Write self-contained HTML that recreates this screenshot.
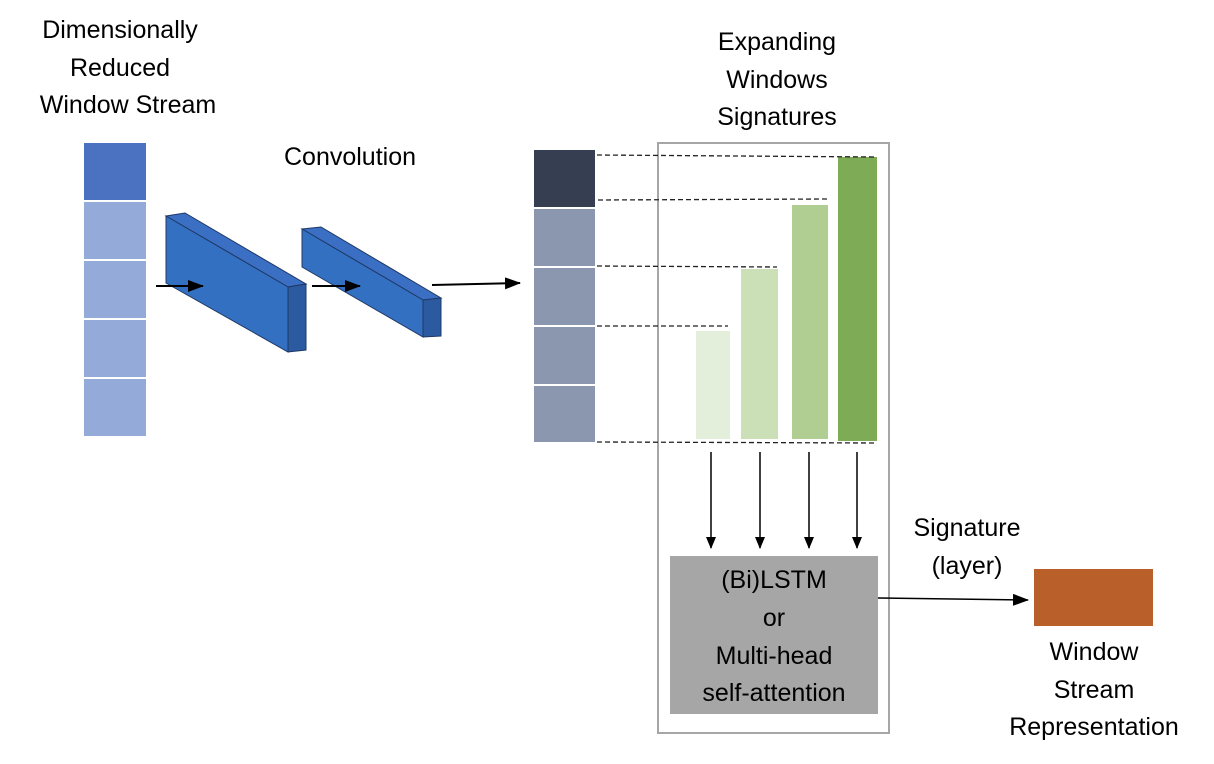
<!DOCTYPE html>
<html><head><meta charset="utf-8"><style>
html,body{margin:0;padding:0;background:#fff;}
svg{display:block}
text{font-family:"Liberation Sans",sans-serif;font-size:25px;fill:#000;text-anchor:middle;dominant-baseline:central}
</style></head><body>
<svg width="1214" height="764" viewBox="0 0 1214 764" xmlns="http://www.w3.org/2000/svg">
<defs><marker id="a" markerWidth="12" markerHeight="10" refX="11" refY="5" orient="auto" markerUnits="userSpaceOnUse"><path d="M0,0 L12,5 L0,10 Z" fill="#000"/></marker>
<marker id="b" markerWidth="16" markerHeight="12" refX="15" refY="6" orient="auto" markerUnits="userSpaceOnUse"><path d="M0,0 L16,6 L0,12 Z" fill="#000"/></marker></defs>
<text x="120" y="30">Dimensionally</text><text x="120" y="68">Reduced</text><text x="128" y="105">Window Stream</text>
<rect x="84" y="143" width="62" height="57" fill="#4a72c0"/>
<rect x="84" y="202" width="62" height="57" fill="#94aad8"/>
<rect x="84" y="261" width="62" height="57" fill="#94aad8"/>
<rect x="84" y="320" width="62" height="57" fill="#94aad8"/>
<rect x="84" y="379" width="62" height="57" fill="#94aad8"/>
<text x="350" y="157">Convolution</text>
<g stroke="#1f3864" stroke-width="1">
<polygon points="166,216 185,213 306,284 288,287" fill="#3a6fc4"/>
<polygon points="166,216 288,287 288,352 166,283" fill="#3470c2"/>
<polygon points="288,287 306,284 306,350 288,352" fill="#2b5aa0"/>
<polygon points="302,229 321,227 441,298 423,300" fill="#3a6fc4"/>
<polygon points="302,229 423,300 423,337 302,267" fill="#3470c2"/>
<polygon points="423,300 441,298 441,336 423,337" fill="#2b5aa0"/>
</g>
<g stroke="#000" stroke-width="2" fill="none">
<line x1="156" y1="286" x2="203" y2="286" marker-end="url(#b)"/>
<line x1="312" y1="286" x2="360" y2="286" marker-end="url(#b)"/>
<line x1="432" y1="285" x2="520" y2="283" marker-end="url(#b)"/>
</g>
<text x="777" y="42">Expanding</text><text x="777" y="80">Windows</text><text x="777" y="117">Signatures</text>
<rect x="534" y="150" width="61" height="57" fill="#353f51"/>
<rect x="534" y="209" width="61" height="57" fill="#8a97ae"/>
<rect x="534" y="268" width="61" height="57" fill="#8a97ae"/>
<rect x="534" y="327" width="61" height="57" fill="#8a97ae"/>
<rect x="534" y="386" width="61" height="56" fill="#8a97ae"/>
<rect x="658" y="143" width="231" height="590" fill="none" stroke="#a6a6a6" stroke-width="2"/>
<rect x="696" y="331" width="34" height="108" fill="#e3efda"/>
<rect x="741" y="269" width="37" height="170" fill="#cbe0b7"/>
<rect x="792" y="205" width="36" height="234" fill="#b1ce92"/>
<rect x="838" y="157" width="39" height="284" fill="#7eab55"/>
<g stroke="#222" stroke-width="1.3" stroke-dasharray="5,3" fill="none">
<line x1="597" y1="155" x2="877" y2="157"/>
<line x1="598" y1="200" x2="827" y2="199"/>
<line x1="597" y1="266" x2="777" y2="267"/>
<line x1="597" y1="326" x2="728" y2="326"/>
<line x1="597" y1="442" x2="877" y2="443"/>
</g>
<g stroke="#000" stroke-width="1.5">
<line x1="711" y1="452" x2="711" y2="548" marker-end="url(#a)"/>
<line x1="760" y1="452" x2="760" y2="548" marker-end="url(#a)"/>
<line x1="809" y1="452" x2="809" y2="548" marker-end="url(#a)"/>
<line x1="857" y1="452" x2="857" y2="548" marker-end="url(#a)"/>
<line x1="878" y1="598" x2="1028" y2="600" marker-end="url(#b)"/>
</g>
<rect x="670" y="556" width="208" height="158" fill="#a6a6a6"/>
<text x="774" y="580">(Bi)LSTM</text><text x="774" y="618">or</text><text x="774" y="656">Multi-head</text><text x="774" y="693">self-attention</text>
<text x="967" y="528">Signature</text><text x="967" y="566">(layer)</text>
<rect x="1034" y="569" width="119" height="57" fill="#b85f2a"/>
<text x="1094" y="652">Window</text><text x="1094" y="690">Stream</text><text x="1094" y="727">Representation</text>
</svg>
</body></html>
